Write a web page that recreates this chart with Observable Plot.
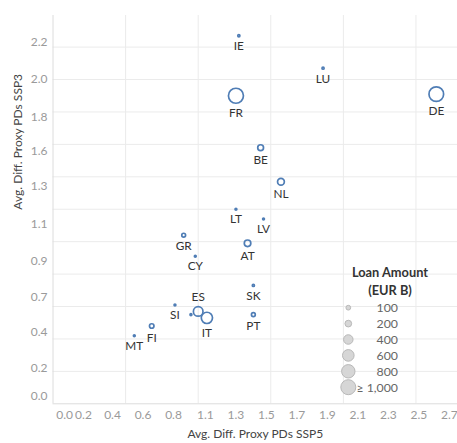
<!DOCTYPE html>
<html>
<head>
<meta charset="utf-8">
<script src="https://cdn.jsdelivr.net/npm/d3@7"></script>
<script src="https://cdn.jsdelivr.net/npm/@observablehq/plot@0.6"></script>
<style>
  html, body { margin: 0; padding: 0; background: #fff; }
  #chart { position: relative; width: 457px; height: 443px; }
</style>
</head>
<body>
<div id="chart"></div>
<script>
// ---- data ----
const countries = ["IE","LU","FR","DE","BE","NL","LT","LV","GR","AT","CY","SK","PT","SI","","ES","IT","FI","MT"];
const ssp5 =      [1.28,1.86,1.26,2.64,1.43,1.57,1.26,1.45,0.90,1.34,0.98,1.38,1.38,0.84,0.95,1.00,1.06,0.68,0.56];
const ssp3 =      [2.27,2.07,1.90,1.91,1.58,1.37,1.20,1.14,1.04,0.99,0.91,0.73,0.55,0.61,0.55,0.57,0.53,0.48,0.42];
const loans =     [20,  20,  1000,950, 150, 205, 15,  15,  65,  190, 15,  20,  65,  15,  15,  410, 560, 90,  15];
const labelAbove = ["ES"];

const xTickValues = [0.08,0.21,0.41,0.62,0.83,1.05,1.26,1.47,1.68,1.89,2.10,2.31,2.52,2.73];
const xTickLabels = ["0.0","0.2","0.4","0.6","0.8","1.1","1.3","1.5","1.7","1.9","2.1","2.3","2.5","2.7"];
const yTickValues = [0.05,0.22,0.44,0.66,0.88,1.11,1.34,1.56,1.77,2.00,2.23];
const yTickLabels = ["0.0","0.2","0.4","0.7","0.9","1.1","1.3","1.6","1.8","2.0","2.2"];

const legendValues = [100, 200, 400, 600, 800, 1000];
const legendLabels = ["100", "200", "400", "600", "800", "\u2265 1,000"];

const xTitle = "Avg. Diff. Proxy PDs SSP5";
const yTitle = "Avg. Diff. Proxy PDs SSP3";
const legendTitle = ["Loan Amount", "(EUR B)"];

// ---- build tables ----
const points = countries.map((c, i) => ({country: c, x: ssp5[i], y: ssp3[i], loan: loans[i]}));
const xTicks = xTickValues.map((v, i) => ({v, label: xTickLabels[i]}));
const yTicks = yTickValues.map((v, i) => ({v, label: yTickLabels[i]}));

const BLUE = "#4f7db5";
const FONT = "Lato, 'Open Sans', sans-serif";
const rConfig = {type: "sqrt", domain: [0, 1000], range: [0, 7.5], clamp: true};
const rFn = d3.scaleSqrt().domain(rConfig.domain).range(rConfig.range).clamp(true);

const labelMarks = points.filter(d => d.country !== "").map(d => {
  const above = labelAbove.includes(d.country);
  const off = rFn(d.loan) + 9.5;
  return Plot.text([d], {x: "x", y: "y", text: "country", dy: above ? -off : off,
    fill: "#333", fontSize: 11.8});
});

const chart = Plot.plot({
  width: 457,
  height: 443,
  marginLeft: 52.5,
  marginTop: 15,
  marginBottom: 39.7,
  marginRight: 0,
  style: {fontFamily: FONT, fontSize: "12px", background: "#fff"},
  x: {domain: [0, 2.786], axis: null},
  y: {domain: [0, 2.395], axis: null},
  r: rConfig,
  marks: [
    Plot.gridX(d3.range(0.5, 2.79, 0.5), {stroke: "#ebebeb", strokeOpacity: 1}),
    Plot.gridY(d3.range(0.2, 2.3, 0.2), {stroke: "#ebebeb", strokeOpacity: 1}),
    Plot.ruleX([0], {stroke: "#dcdcdc"}),
    Plot.ruleY([0], {stroke: "#dcdcdc"}),
    Plot.text(xTicks, {x: "v", text: "label", frameAnchor: "bottom", dy: 15, fill: "#9a9a9a", fontSize: 12}),
    Plot.text(yTicks, {y: "v", text: "label", frameAnchor: "left", dx: -5.5, textAnchor: "end", fill: "#9a9a9a", fontSize: 12}),
    Plot.text([xTitle], {frameAnchor: "bottom", dy: 34.5, fill: "#444", fontSize: 12}),
    Plot.text([yTitle], {frameAnchor: "left", dx: -34.5, rotate: -90, fill: "#444", fontSize: 12}),
    Plot.dot(points, {x: "x", y: "y", r: "loan", stroke: BLUE, strokeWidth: 1.7, fill: "none"}),
    ...labelMarks
  ]
});

document.getElementById("chart").appendChild(chart);

// ---- size legend (drawn inside the plot area) ----
const svg = d3.select(chart);
const rScale = chart.scale("r");
const g = svg.append("g").attr("font-family", FONT);
g.selectAll("text.title").data(legendTitle).join("text")
  .attr("class", "title")
  .attr("x", 390).attr("y", (d, i) => 273 + i * 18)
  .attr("dy", "0.35em")
  .attr("text-anchor", "middle")
  .attr("font-size", 12.8).attr("font-weight", "bold").attr("fill", "#333")
  .text(d => d);
const rows = g.selectAll("g.row").data(legendValues).join("g")
  .attr("class", "row")
  .attr("transform", (d, i) => `translate(0,${307.7 + i * 15.9})`);
rows.append("circle")
  .attr("cx", 348.3).attr("cy", 0)
  .attr("r", d => rScale.apply(d))
  .attr("fill", "#d6d6d6").attr("stroke", "#b8b8b8").attr("stroke-width", 1);
rows.append("text")
  .attr("x", 398).attr("y", 0).attr("dy", "0.35em")
  .attr("text-anchor", "end").attr("font-size", 12.3).attr("fill", "#666")
  .text((d, i) => legendLabels[i]);
</script>
</body>
</html>
